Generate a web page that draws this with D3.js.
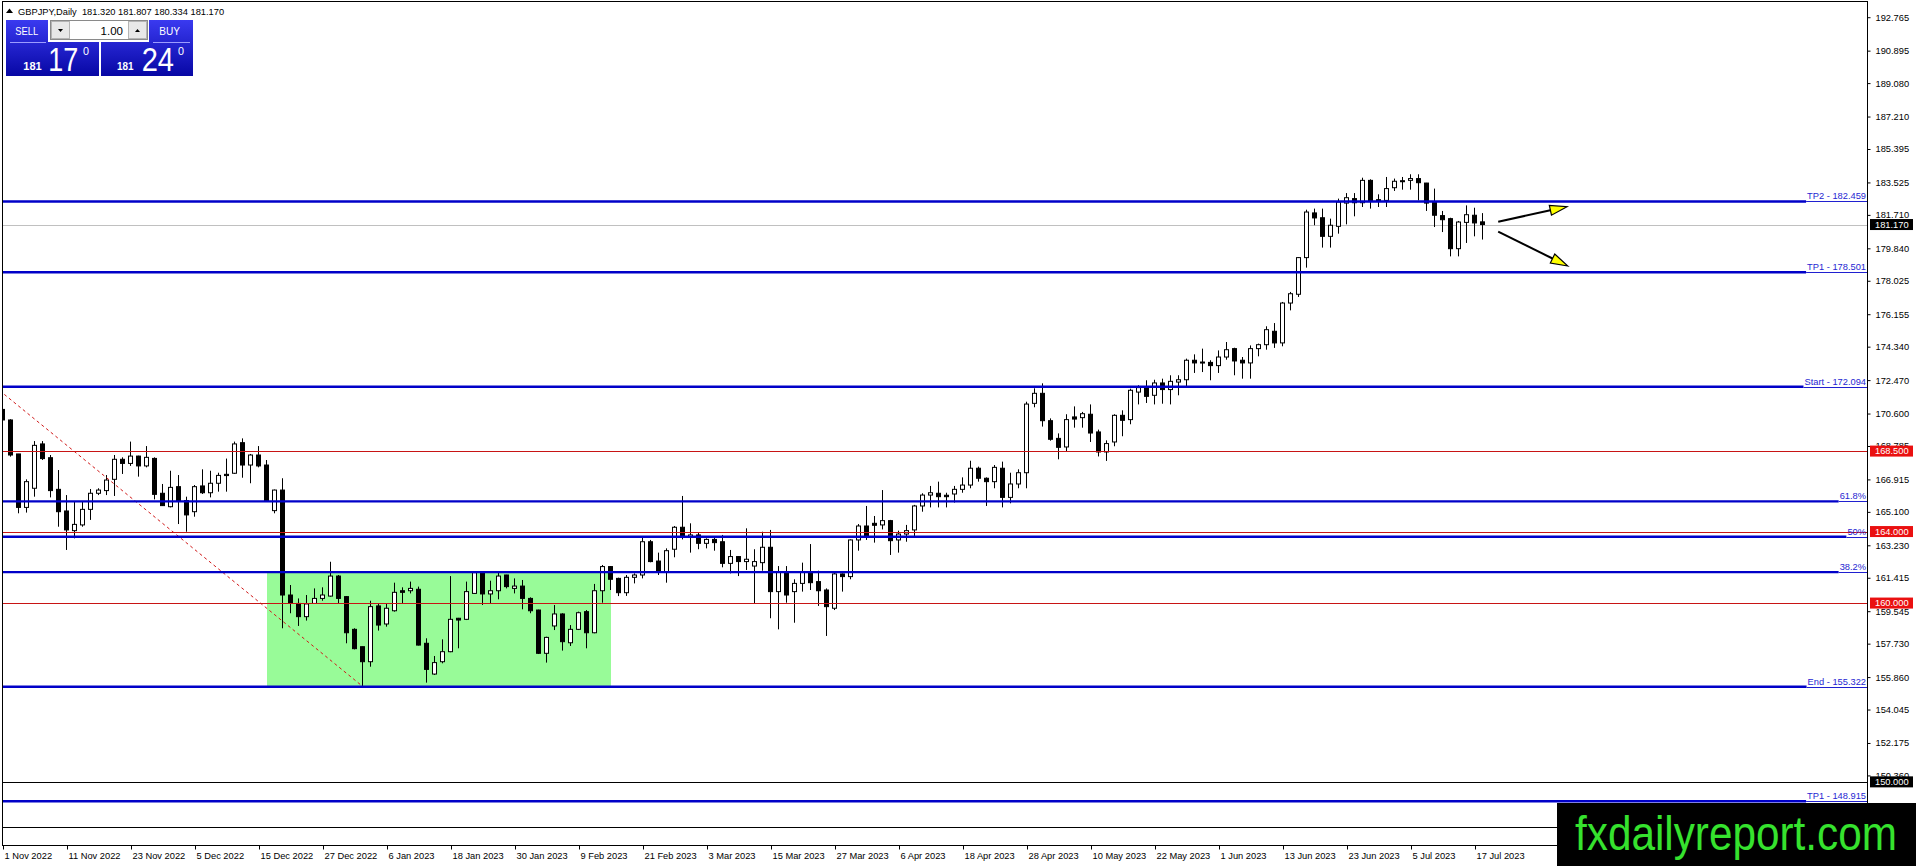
<!DOCTYPE html>
<html>
<head>
<meta charset="utf-8">
<script src="https://cdn.jsdelivr.net/npm/d3@7"></script>
<style>
html, body { margin: 0; padding: 0; background: #fff; overflow: hidden; }
svg { display: block; font-family: "Liberation Sans", Arial, sans-serif; }
</style>
</head>
<body>
<svg id="chart" width="1916" height="866"></svg>
<script>
// daily GBPJPY bars, 1 Nov 2022 .. 18 Jul 2023 (bar index = position)
const opens = [
  170.83,170.24,168.34,165.35,166.42,168.90,168.13,166.36,165.15,164.05,
  164.37,165.24,166.14,166.29,166.92,168.04,167.81,168.22,167.67,168.09,
  166.14,165.39,166.51,165.73,165.11,166.55,166.17,166.70,167.20,167.26,
  168.97,167.72,168.28,167.72,165.17,166.32,160.45,159.98,159.24,159.98,
  160.26,160.39,161.51,160.36,158.53,157.56,156.72,159.84,158.83,159.57,
  160.69,160.69,160.77,157.75,156.03,156.72,157.28,159.15,159.09,160.54,
  161.70,160.51,160.69,161.57,160.82,160.95,160.26,159.61,157.19,158.72,
  159.39,157.78,158.53,159.52,158.34,160.69,162.04,161.38,160.58,161.44,
  161.57,163.43,162.35,161.76,163.01,164.24,163.68,163.81,163.34,163.56,
  163.43,162.22,162.60,162.32,162.07,162.26,163.12,160.64,161.76,160.64,
  161.10,161.76,161.20,160.73,159.71,161.63,161.48,163.53,164.31,164.46,
  164.37,164.61,163.53,163.86,164.09,165.43,166.04,166.14,166.03,166.10,
  166.36,166.60,167.54,166.98,166.79,167.54,165.91,166.66,167.29,171.17,
  171.73,170.20,169.21,168.73,170.41,170.37,170.56,169.57,168.45,169.01,
  170.50,170.26,171.80,172.05,171.62,172.31,171.94,172.36,172.49,173.58,
  173.48,173.46,173.28,173.76,174.23,173.58,173.43,174.23,174.45,175.20,
  174.55,176.78,177.27,179.32,181.82,181.55,180.51,181.07,182.37,182.62,
  182.39,183.64,182.56,182.52,183.23,183.62,183.64,183.74,183.49,182.43,
  181.67,181.50,179.82,181.29,181.69,181.32
];
const highs = [
  170.95,170.28,168.34,166.92,169.06,169.06,168.28,167.44,166.04,165.67,
  165.67,166.38,166.42,167.16,168.28,168.15,169.03,168.24,168.78,168.15,
  166.66,167.40,167.16,165.95,166.60,167.48,167.40,167.29,168.08,169.03,
  169.21,168.34,168.78,168.00,166.35,166.98,161.01,160.26,160.45,160.82,
  160.88,162.31,161.57,160.39,158.59,157.56,160.13,159.95,159.98,161.14,
  160.88,161.20,160.92,158.03,157.04,157.97,161.51,159.17,161.20,161.74,
  161.72,161.25,161.70,161.58,161.38,161.29,160.32,159.63,158.12,159.89,
  159.43,158.77,159.52,159.61,161.07,162.13,162.07,161.42,161.57,161.66,
  163.68,163.53,162.82,163.06,164.31,165.99,164.46,163.94,163.62,163.68,
  163.81,162.97,162.63,164.18,163.01,163.99,164.09,162.07,162.07,161.33,
  162.26,163.30,161.81,160.82,161.70,161.66,163.56,164.42,165.43,164.87,
  166.32,164.65,164.05,164.37,165.49,166.14,166.55,166.79,166.17,166.55,
  167.03,167.96,167.63,167.03,167.72,167.91,167.29,167.48,171.26,172.01,
  172.29,170.33,169.49,170.56,171.00,170.69,171.11,169.70,169.10,170.56,
  170.78,171.99,172.18,172.46,172.49,172.55,172.74,172.74,173.67,173.91,
  174.23,173.58,174.13,174.60,174.28,173.76,174.41,174.51,175.48,175.66,
  176.84,177.40,179.35,182.00,182.06,182.06,181.50,182.62,182.93,182.93,
  183.79,183.70,182.86,183.83,183.74,183.83,183.98,183.98,183.50,183.18,
  181.93,181.55,181.37,182.24,182.11,181.81
];
const lows = [
  169.40,168.19,165.02,165.06,165.95,168.00,165.91,164.27,162.97,163.62,
  164.27,164.65,166.04,166.04,165.99,167.22,167.67,167.07,167.59,165.80,
  165.43,165.35,164.42,163.99,164.83,166.10,165.91,166.23,166.23,167.22,
  167.01,166.70,167.59,165.70,165.02,158.59,159.43,158.72,159.02,159.95,
  160.13,160.36,159.98,157.75,157.41,155.32,156.44,158.46,158.68,159.52,
  159.98,160.54,157.63,155.55,155.98,156.63,157.25,157.47,159.05,160.51,
  159.89,159.98,160.21,160.82,160.54,159.65,159.43,157.15,156.67,158.49,
  157.34,157.60,158.49,157.47,158.31,160.02,160.73,160.39,160.40,161.10,
  161.38,162.28,161.57,161.14,162.56,163.56,162.82,163.01,163.06,162.93,
  162.00,161.66,161.51,161.85,159.99,161.81,159.15,158.53,160.02,158.90,
  160.64,160.73,159.84,158.16,159.61,160.64,161.33,162.93,163.53,163.38,
  164.12,162.69,162.82,163.43,163.75,165.11,165.35,165.35,165.35,165.62,
  166.17,166.42,166.79,165.43,166.42,165.35,165.58,166.42,166.42,170.95,
  169.87,169.08,168.04,168.45,169.81,169.81,169.01,168.20,167.95,168.77,
  169.33,170.00,171.11,171.19,171.11,171.15,171.11,171.62,172.08,172.87,
  172.92,172.46,172.87,173.61,172.74,172.55,172.55,173.80,174.17,174.27,
  174.36,176.37,177.12,178.76,181.13,179.88,179.88,180.66,181.18,181.63,
  182.15,182.06,182.15,182.15,183.05,183.12,183.12,182.52,181.93,181.03,
  180.75,179.39,179.39,180.14,180.51,180.33
];
const closes = [
  170.24,168.28,165.35,166.79,168.82,168.08,166.29,165.11,164.09,164.40,
  165.24,166.14,166.32,166.88,168.04,167.81,168.22,167.67,168.15,166.08,
  165.45,166.47,165.73,164.93,166.51,166.17,166.70,167.14,167.13,168.90,
  167.72,168.28,167.67,165.73,166.32,160.45,159.98,159.24,159.95,160.26,
  160.45,161.51,160.26,158.34,157.45,156.72,159.80,158.77,159.71,160.60,
  160.60,160.82,157.65,156.29,156.67,157.28,159.09,159.05,160.64,161.70,
  160.51,160.69,161.51,160.92,160.95,160.26,159.57,157.19,158.08,159.39,
  157.84,158.53,159.46,158.34,160.69,162.04,161.33,160.58,161.44,161.57,
  163.43,162.32,161.76,162.93,164.24,163.68,163.81,163.34,163.56,163.38,
  162.22,162.60,162.32,162.45,162.32,163.12,160.64,161.76,160.45,161.10,
  161.76,161.14,160.69,159.80,161.63,161.48,163.53,164.31,163.75,164.35,
  164.61,163.49,163.86,164.05,165.43,166.04,166.17,165.95,165.95,166.36,
  166.60,167.54,166.98,166.79,167.59,165.91,166.66,167.29,171.13,171.73,
  170.20,169.16,168.71,170.26,170.29,170.59,169.51,168.45,168.92,170.50,
  170.22,171.90,172.05,171.56,172.31,171.94,172.40,172.49,173.58,173.43,
  173.45,173.28,173.76,174.17,173.54,173.43,174.23,174.45,175.29,174.55,
  176.78,177.30,179.32,181.87,181.54,180.51,181.13,182.43,182.67,182.39,
  183.64,182.49,182.49,183.18,183.59,183.57,183.74,183.51,182.37,181.69,
  181.44,179.82,181.31,181.72,181.26,181.17
];

const dateTickBars = [0,8,16,24,32,40,48,56,64,72,80,88,96,104,112,120,128,136,144,152,160,168,176,184];
const dateTickLabels = [
  "1 Nov 2022","11 Nov 2022","23 Nov 2022","5 Dec 2022","15 Dec 2022","27 Dec 2022",
  "6 Jan 2023","18 Jan 2023","30 Jan 2023","9 Feb 2023","21 Feb 2023","3 Mar 2023",
  "15 Mar 2023","27 Mar 2023","6 Apr 2023","18 Apr 2023","28 Apr 2023","10 May 2023",
  "22 May 2023","1 Jun 2023","13 Jun 2023","23 Jun 2023","5 Jul 2023","17 Jul 2023"
];
const priceTicks = [
  192.765,190.895,189.080,187.210,185.395,183.525,181.710,179.840,178.025,176.155,
  174.340,172.470,170.600,168.785,166.915,165.100,163.230,161.415,159.545,157.730,
  155.860,154.045,152.175,150.360
];

// blue levels (targets and fibo retracement)
const levelPrices = [182.459, 178.501, 172.094, 165.687, 163.708, 161.729, 155.322, 148.915];
const levelNames  = ["TP2 - 182.459","TP1 - 178.501","Start - 172.094","61.8%","50%","38.2%","End - 155.322","TP1 - 148.915"];
const redLevels   = [168.500, 164.000, 160.000];
const blackLevels = [150.000, 147.500];
const bidPrice    = 181.170;

// fibo trend line and range box (bar index, price)
const fiboFrom = [-1, 172.094];
const fiboTo   = [45, 155.322];
const boxBars   = [33, 76];
const boxPrices = [155.322, 161.75];

// drawn arrows: [tail bar, tail price, tip bar, tip price]
const arrows = [
  [186.9, 181.33, 195.5, 182.17],
  [186.9, 180.77, 195.6, 178.85]
];

const header = ["GBPJPY,Daily", 181.320, 181.807, 180.334, 181.170];

const svg = d3.select("#chart");
const pL = 2, pR = 1867, pT = 2, pB = 845;
const fs = 9.3;

const x = d3.scaleLinear().domain([0, 185]).range([3, 1483]);
const y = d3.scaleLinear().domain([146.469, 193.616]).range([pB, pT]);

const defs = svg.append("defs");
defs.append("clipPath").attr("id", "plot")
    .append("rect").attr("x", pL).attr("y", pT)
    .attr("width", pR - pL).attr("height", pB - pT);

const plot = svg.append("g").attr("clip-path", "url(#plot)");

// range box
plot.append("rect")
    .attr("x", x(boxBars[0])).attr("y", y(boxPrices[1]))
    .attr("width", x(boxBars[1]) - x(boxBars[0]))
    .attr("height", y(boxPrices[0]) - y(boxPrices[1]))
    .attr("fill", "#98fb98");

// bid line
plot.append("line")
    .attr("x1", pL).attr("x2", pR)
    .attr("y1", Math.round(y(bidPrice)) + 0.5).attr("y2", Math.round(y(bidPrice)) + 0.5)
    .attr("stroke", "#c0c0c0").attr("stroke-width", 1);

// candles
const bars = d3.range(opens.length);
const candle = plot.append("g").selectAll("g")
    .data(bars)
    .enter().append("g");

candle.append("line")
    .attr("x1", d => x(d) - 0.5).attr("x2", d => x(d) - 0.5)
    .attr("y1", d => y(highs[d])).attr("y2", d => y(lows[d]))
    .attr("stroke", "#000").attr("stroke-width", 1);

candle.append("rect")
    .attr("x", d => x(d) - 2.5)
    .attr("width", 4)
    .attr("y", d => y(Math.max(opens[d], closes[d])))
    .attr("height", d => Math.max(1, Math.abs(y(opens[d]) - y(closes[d]))))
    .attr("fill", d => closes[d] >= opens[d] ? "#fff" : "#000")
    .attr("stroke", "#000").attr("stroke-width", 1);

// fibo trend line
plot.append("line")
    .attr("x1", x(fiboFrom[0])).attr("y1", y(fiboFrom[1]))
    .attr("x2", x(fiboTo[0])).attr("y2", y(fiboTo[1]))
    .attr("stroke", "#d01818").attr("stroke-width", 1)
    .attr("stroke-dasharray", "3,3");

// red and black horizontal lines
plot.selectAll(".red").data(redLevels).enter().append("line")
    .attr("x1", pL).attr("x2", pR)
    .attr("y1", d => Math.round(y(d)) + 0.5).attr("y2", d => Math.round(y(d)) + 0.5)
    .attr("stroke", "#c81414").attr("stroke-width", 1);

plot.selectAll(".blk").data(blackLevels).enter().append("line")
    .attr("x1", pL).attr("x2", pR)
    .attr("y1", d => Math.round(y(d)) + 0.5).attr("y2", d => Math.round(y(d)) + 0.5)
    .attr("stroke", "#000").attr("stroke-width", 1);

// blue levels with their descriptions
levelPrices.forEach((p, i) => {
    const ly = y(p);
    const label = plot.append("text")
        .attr("x", pR - 1).attr("y", ly - 2)
        .attr("text-anchor", "end")
        .attr("font-size", fs)
        .attr("fill", "#2626d2")
        .text(levelNames[i]);
    const w = label.node().getComputedTextLength();
    plot.append("line")
        .attr("x1", pL).attr("x2", pR - 2 - w)
        .attr("y1", ly).attr("y2", ly)
        .attr("stroke", "#0000c8").attr("stroke-width", 2.4);
    plot.append("line")
        .attr("x1", pR - 2 - w).attr("x2", pR)
        .attr("y1", Math.round(ly) + 0.5).attr("y2", Math.round(ly) + 0.5)
        .attr("stroke", "#2020d0").attr("stroke-width", 1);
});

// arrows
arrows.forEach(a => {
    const x1 = x(a[0]), y1 = y(a[1]), x2 = x(a[2]), y2 = y(a[3]);
    const len = Math.hypot(x2 - x1, y2 - y1);
    const ux = (x2 - x1) / len, uy = (y2 - y1) / len;
    const hl = 17, hw = 5;
    const bx = x2 - ux * hl, by = y2 - uy * hl;
    plot.append("line")
        .attr("x1", x1).attr("y1", y1).attr("x2", bx).attr("y2", by)
        .attr("stroke", "#000").attr("stroke-width", 2);
    plot.append("path")
        .attr("d", `M${x2},${y2}L${bx - uy * hw},${by + ux * hw}L${bx + uy * hw},${by - ux * hw}Z`)
        .attr("fill", "#ffff00").attr("stroke", "#000").attr("stroke-width", 1.2);
});

// frame
svg.append("rect")
    .attr("x", pL + 0.5).attr("y", pT - 0.5)
    .attr("width", pR - pL).attr("height", pB - pT + 1)
    .attr("fill", "none").attr("stroke", "#000").attr("stroke-width", 1);

// price axis
const yAxis = svg.append("g")
    .attr("transform", `translate(${pR + 0.5},0)`)
    .call(d3.axisRight(y).tickValues(priceTicks).tickSize(3).tickPadding(5)
        .tickFormat(d3.format(".3f")));
yAxis.select(".domain").remove();
yAxis.selectAll("text").attr("font-size", fs).attr("font-family", "Liberation Sans, Arial, sans-serif");

// date axis
const xAxis = svg.append("g")
    .attr("transform", `translate(0,${pB + 0.5})`)
    .call(d3.axisBottom(x).tickValues(dateTickBars).tickSize(4).tickPadding(3)
        .tickFormat((d, i) => dateTickLabels[i]));
xAxis.select(".domain").remove();
xAxis.selectAll("text").attr("font-size", fs).attr("text-anchor", "start")
    .attr("dx", 1).attr("font-family", "Liberation Sans, Arial, sans-serif");

// price tags on the axis (the 147.500 tag sits under the watermark)
function priceTag(p, color) {
    const ty = y(p);
    svg.append("rect")
        .attr("x", pR + 3).attr("y", ty - 5.5)
        .attr("width", 43).attr("height", 11)
        .attr("fill", color);
    svg.append("text")
        .attr("x", pR + 8).attr("y", ty + 3.4)
        .attr("font-size", fs).attr("fill", "#fff")
        .text(d3.format(".3f")(p));
}
redLevels.forEach(p => priceTag(p, "#ea1010"));
priceTag(blackLevels[0], "#000");
priceTag(bidPrice, "#000");

// header line
svg.append("path").attr("d", "M6,13L9.5,8.5L13,13Z").attr("fill", "#000");
svg.append("text")
    .attr("x", 18).attr("y", 14.5)
    .attr("font-size", fs)
    .attr("xml:space", "preserve")
    .text(header[0] + "  " + header.slice(1).map(d3.format(".3f")).join(" "));

// one click trading panel
const grad = defs.append("linearGradient")
    .attr("id", "btn").attr("x1", 0).attr("y1", 0).attr("x2", 0).attr("y2", 1);
grad.append("stop").attr("offset", 0).attr("stop-color", "#3a3af0");
grad.append("stop").attr("offset", 1).attr("stop-color", "#0707a4");

const panel = svg.append("g");
panel.append("rect").attr("x", 6).attr("y", 20).attr("width", 93).attr("height", 56).attr("fill", "url(#btn)");
panel.append("rect").attr("x", 101).attr("y", 20).attr("width", 92).attr("height", 56).attr("fill", "url(#btn)");
panel.append("rect").attr("x", 48).attr("y", 18).attr("width", 101).attr("height", 24).attr("fill", "#fff");
panel.append("rect").attr("x", 50.5).attr("y", 20.5).attr("width", 97).attr("height", 19)
    .attr("fill", "#fff").attr("stroke", "#8a8a8a");
panel.append("rect").attr("x", 51.5).attr("y", 21.5).attr("width", 18).attr("height", 17)
    .attr("fill", "#e8e8e8").attr("stroke", "#b4b4b4");
panel.append("rect").attr("x", 128.5).attr("y", 21.5).attr("width", 18).attr("height", 17)
    .attr("fill", "#e8e8e8").attr("stroke", "#b4b4b4");
panel.append("path").attr("d", "M58,29L63,29L60.5,32Z").attr("fill", "#000");
panel.append("path").attr("d", "M135,32L140,32L137.5,29Z").attr("fill", "#000");
panel.append("text").attr("x", 123).attr("y", 35).attr("text-anchor", "end")
    .attr("font-size", 11.5).text("1.00");
panel.append("line").attr("x1", 10).attr("x2", 46).attr("y1", 42.5).attr("y2", 42.5).attr("stroke", "#9c9cff");
panel.append("line").attr("x1", 153).attr("x2", 190).attr("y1", 42.5).attr("y2", 42.5).attr("stroke", "#9c9cff");

function panelText(t, x0, base, size, len, weight) {
    panel.append("text").attr("x", x0).attr("y", base)
        .attr("font-size", size).attr("font-weight", weight || "normal")
        .attr("fill", "#fff")
        .attr("textLength", len).attr("lengthAdjust", "spacingAndGlyphs")
        .text(t);
}
panelText("SELL", 15.3, 35, 11.5, 23);
panelText("BUY", 159.3, 35, 11.5, 20.7);
panelText("181", 23.3, 70, 11.5, 18.4, "bold");
panelText("17", 48.3, 70.7, 33.5, 30);
panelText("0", 83, 55, 11.5, 6);
panelText("181", 117, 70, 11.5, 16.5, "bold");
panelText("24", 141.7, 70.7, 33.5, 32.3);
panelText("0", 178, 55, 11.5, 6);

// watermark
svg.append("rect").attr("x", 1557).attr("y", 803).attr("width", 359).attr("height", 63).attr("fill", "#000");
svg.append("text").attr("x", 1575).attr("y", 850)
    .attr("font-size", 48).attr("fill", "#36e22e")
    .attr("textLength", 322).attr("lengthAdjust", "spacingAndGlyphs")
    .text("fxdailyreport.com");
</script>
</body>
</html>
